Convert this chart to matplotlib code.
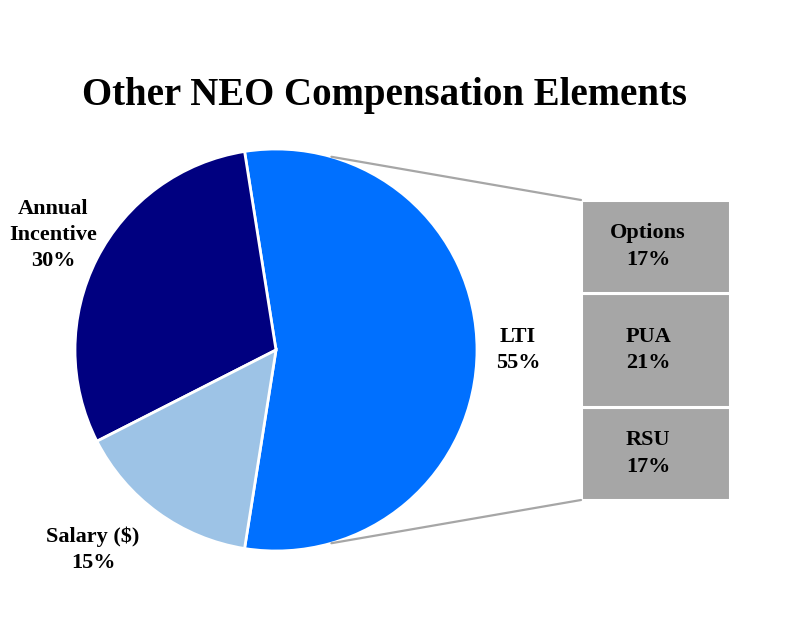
import matplotlib.pyplot as plt
from matplotlib.patches import ConnectionPatch
import numpy as np

plt.rcParams['font.family'] = ['Liberation Serif', 'DejaVu Serif']
plt.rcParams['font.weight'] = 'bold'

# pie data (counter-clockwise from LTI)
pie_labels = ['LTI', 'Annual\nIncentive', 'Salary ($)']
pie_values = [55, 30, 15]
pie_colors = ['#0070FF', '#000080', '#9DC3E6']

# LTI split (bottom to top)
bar_labels = ['RSU', 'PUA', 'Options']
bar_values = [17, 21, 17]

fig = plt.figure(figsize=(8.05, 6.36), dpi=100)
W, H = 805, 636

# pie axes
cx, cy, r = 276, 350, 201
ax1 = fig.add_axes([(cx - r) / W, (H - cy - r) / H, 2 * r / W, 2 * r / H])
ax1.pie(pie_values, colors=pie_colors, startangle=-99, counterclock=True,
        radius=1, wedgeprops=dict(edgecolor='white', linewidth=2))
ax1.set_xlim(-1, 1)
ax1.set_ylim(-1, 1)
ax1.set_aspect('equal')
ax1.axis('off')

# label positions in pixels
label_pos = [(518, 350), (53, 235), (93, 550)]
for lab, val, (px, py) in zip(pie_labels, pie_values, label_pos):
    ax1.text((px - cx) / r, (cy - py) / r, f"{lab}\n{val}%", ha='center', va='center',
             fontsize=16, fontweight='bold', linespacing=1.42, clip_on=False)

# bar axes
bx0, bx1, by0, by1 = 581, 730, 200, 500
ax2 = fig.add_axes([bx0 / W, (H - by1) / H, (bx1 - bx0) / W, (by1 - by0) / H])
bottom = 0
for lab, val in zip(bar_labels, bar_values):
    ax2.bar(0, val, width=1, bottom=bottom, color='#A6A6A6', edgecolor='white', linewidth=2.2)
    ax2.text(-0.05, bottom + val / 2, f"{lab}\n{val}%", ha='center', va='center',
             fontsize=16, fontweight='bold', linespacing=1.42)
    bottom += val
ax2.set_xlim(-0.5, 0.5)
ax2.set_ylim(0, sum(bar_values))
ax2.axis('off')

# connecting lines
ang = np.deg2rad(74)
for ya, sgn in [(sum(bar_values), 1), (0, -1)]:
    con = ConnectionPatch(xyA=(-0.5, ya), coordsA=ax2.transData,
                          xyB=(np.cos(ang), sgn * np.sin(ang)), coordsB=ax1.transData,
                          color='#A6A6A6', linewidth=1.6)
    fig.add_artist(con)

fig.text(384 / W, 1 - 95 / H, 'Other NEO Compensation Elements', ha='center', va='center',
         fontsize=28, fontweight='bold')

fig.savefig('out.png', dpi=100, facecolor='white')
